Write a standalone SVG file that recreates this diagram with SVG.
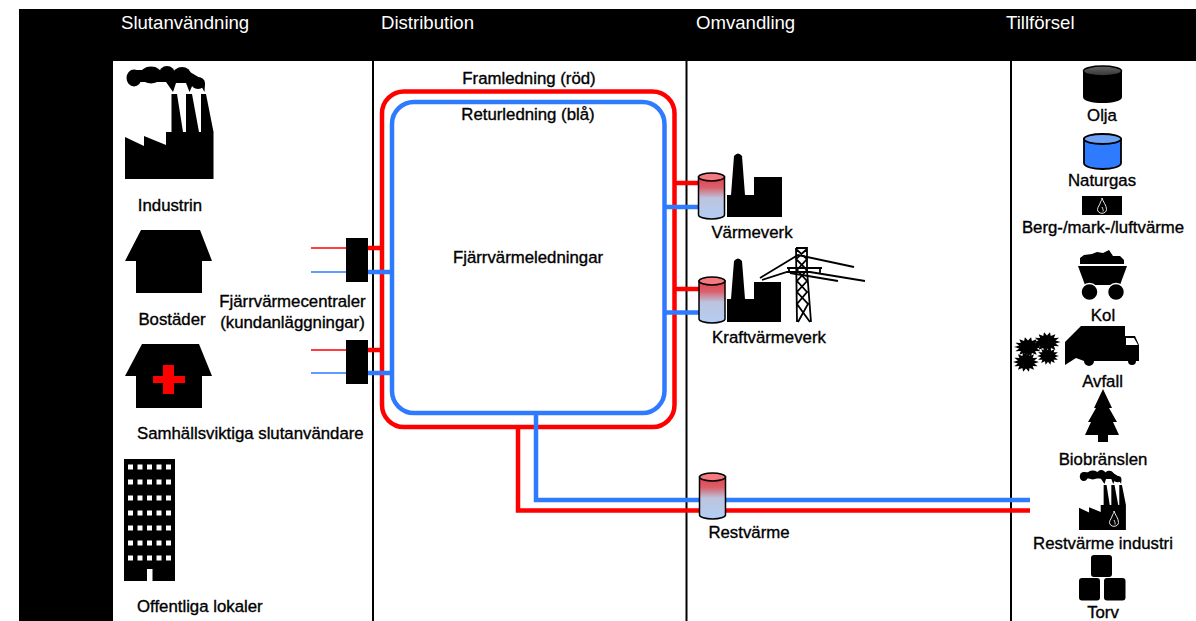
<svg xmlns="http://www.w3.org/2000/svg" width="1196" height="621" viewBox="0 0 1196 621">
<defs>
<linearGradient id="tank" x1="0" y1="0" x2="0" y2="1"><stop offset="0" stop-color="#e8404a"/><stop offset=".25" stop-color="#d9606c"/><stop offset=".5" stop-color="#bcc4de"/><stop offset="1" stop-color="#b4cdf4"/></linearGradient>
<linearGradient id="oil" x1="0" y1="0" x2="0" y2="1"><stop offset="0" stop-color="#666"/><stop offset="1" stop-color="#333"/></linearGradient>
<g id="tankS">
<path d="M0 5V43A13 4 0 0 0 26 43V5Z" fill="url(#tank)" stroke="#000" stroke-width="1.500"/>
<ellipse cx="13" cy="5" rx="13" ry="4" fill="#f47a80" stroke="#000" stroke-width="1.500"/>
</g>
<g id="fact">
<path d="M125 179V137L144 146V136L166 145V132H171.500V94H177L183 132H186V94H192L199 132H201V94H206L213.500 132V179Z"/>
<ellipse cx="134" cy="78" rx="7.500" ry="8.500"/>
<ellipse cx="151" cy="75" rx="11" ry="8.500"/>
<ellipse cx="167" cy="74" rx="8" ry="8"/>
<ellipse cx="182" cy="75" rx="9" ry="8"/>
<ellipse cx="198" cy="83" rx="7" ry="6"/>
<path d="M134 70H170L190 72 200 78 205 84 204.500 92 200 84H193L189.500 92 186 83H176L173 92 166 82H140Z"/>
</g>
<path id="flame" d="M0 0C1 4 4.500 7 4.500 11.500A4.500 3.800 0 0 1 -4.500 11.500C-4.500 9 -2 7 -1.500 4C-1 3 0 2 0 0ZM0 9C.8 11 1.500 12 1 13.500" fill="none" stroke="#fff" stroke-width=".9"/>
<path id="splat" d="M10 0L6.300 1.400 9 4.300 5.100 4.100 6.200 7.800 2.800 5.900 2.200 9.700 0 6.500 -2.200 9.700 -2.800 5.900 -6.200 7.800 -5.100 4.100 -9 4.300 -6.300 1.400 -10 0 -6.300 -1.400 -9 -4.300 -5.100 -4.100 -6.200 -7.800 -2.800 -5.900 -2.200 -9.700 0 -6.500 2.200 -9.700 2.800 -5.900 6.200 -7.800 5.100 -4.100 9 -4.300 6.300 -1.400Z"/>
</defs>
<style>
text{font-family:"Liberation Sans",Arial,sans-serif;font-size:16.800px;fill:#000;stroke:#000;stroke-width:.35px}
.h{font-size:18.600px;fill:#fff;stroke:none}
.m{text-anchor:middle}
.r{fill:none;stroke:#f00;stroke-width:4.500}
.b{fill:none;stroke:#2f7bff;stroke-width:4.500}
.thin{stroke-width:1.500}
.sep{stroke:#000;stroke-width:2;fill:none}
</style>
<rect width="1196" height="621" fill="#fff"/>
<path d="M19 9H1196V61H113V621H19Z" fill="#000"/>
<g id="headers">
<text class="h" x="121" y="29">Slutanvändning</text>
<text class="h" x="381" y="29">Distribution</text>
<text class="h" x="696" y="29">Omvandling</text>
<text class="h" x="1006" y="29">Tillförsel</text>
</g>
<g id="separators">
<path class="sep" d="M373 61V621M686.500 61V621M1011 61V621"/>
</g>
<g id="connectors">
<path class="r" d="M518 427V510.500H1030"/>
<path class="r" d="M404 427H652.500A22 22 0 0 0 674.500 405V113.500A22 22 0 0 0 652.500 91.500H404A22 22 0 0 0 382 113.500V405A22 22 0 0 0 404 427Z"/>
<path class="r" d="M674 183H700M674 289H700M368 248H382M368 350H382"/>
<path class="b" d="M536 413V500H1030"/>
<path class="b" d="M414 413H642.500A22 22 0 0 0 664.500 391V124A22 22 0 0 0 642.500 102H414A22 22 0 0 0 392 124V391A22 22 0 0 0 414 413Z"/>
<path class="b" d="M664 207H700M664 312.500H700M368 272H392M368 373H392"/>
<path class="r thin" d="M311 248H347M311 350H347"/>
<path class="b thin" d="M311 272H347M311 373H347"/>
</g>
<g id="industrin">
<use href="#fact"/>
<text class="m" x="170" y="211">Industrin</text>
</g>
<g id="bostader">
<path d="M141 230H200L212 261H202V293H136V261H125Z" fill="#000"/>
<text class="m" x="172" y="325">Bostäder</text>
</g>
<g id="samhall">
<path d="M142 344H199L212 376H202V408H136V376H125Z" fill="#000"/>
<path d="M163 365H174V376H185V383H174V394H163V383H153V376H163Z" fill="#f00"/>
<text x="137" y="439">Samhällsviktiga slutanvändare</text>
</g>
<g id="offentliga">
<rect x="124" y="459" width="51" height="122" fill="#000"/>
<path fill="none" stroke="#fff" stroke-width="5" stroke-dasharray="5 4.500" d="M128 467H172M128 482H172M128 498H172M128 513H172M128 528H172M128 543H172M128 558H172"/>
<rect x="147" y="569" width="5.500" height="12" fill="#fff"/>
<text x="137" y="612">Offentliga lokaler</text>
</g>
<g id="centraler">
<rect x="346" y="238" width="22" height="44" fill="#000"/>
<rect x="346" y="340" width="22" height="44" fill="#000"/>
<text class="m" x="292.500" y="307">Fjärrvärmecentraler</text>
<text class="m" x="292.500" y="328">(kundanläggningar)</text>
</g>
<g id="labels">
<text class="m" x="529" y="84">Framledning (röd)</text>
<text class="m" x="528" y="120">Returledning (blå)</text>
<text class="m" x="528" y="263">Fjärrvärmeledningar</text>
</g>
<g id="varmeverk">
<use href="#tankS" x="698.500" y="172"/>
<path d="M727 217V195H731L734 156Q738 151 742 156L745 195H754V177H782V217Z" fill="#000"/>
<text class="m" x="752" y="238">Värmeverk</text>
</g>
<g id="kraftvarmeverk">
<use href="#tankS" x="699" y="276"/>
<path d="M727 322V299H731L734 261Q738 256 742 261L745 299H754V282H781V322Z" fill="#000"/>
<path d="M760 278L798 255L854 267M762 280L787 272H810L865 281M790 273L838 281M787 268H822M789 268V273M820 268V274" fill="none" stroke="#000" stroke-width="1.800"/>
<path d="M796 248H807V270L811 322M796 248L797 322M796 249L807 259 797 270 807 281 797 292 808 304 798 322M807 249L796 259 807 270 797 281 807 292 797 304 810 322" fill="none" stroke="#000" stroke-width="1.800"/>
<text class="m" x="769" y="343">Kraftvärmeverk</text>
</g>
<g id="restvarme">
<use href="#tankS" x="699.500" y="472"/>
<text class="m" x="749" y="538">Restvärme</text>
</g>
<g id="olja">
<path d="M1083 71V97C1083 105 1122 105 1122 97V71Z" fill="#000"/>
<ellipse cx="1102.500" cy="71" rx="19" ry="5" fill="url(#oil)" stroke="#000" stroke-width="1.500"/>
<text class="m" x="1102" y="121">Olja</text>
</g>
<g id="naturgas">
<path d="M1084 139V163C1084 171 1121 171 1121 163V139Z" fill="#2f7bff" stroke="#000" stroke-width="1.800"/>
<ellipse cx="1102.500" cy="139" rx="18.500" ry="5" fill="#6ea4f8" stroke="#000" stroke-width="1.800"/>
<text class="m" x="1102" y="186">Naturgas</text>
</g>
<g id="berg">
<rect x="1082" y="196" width="40" height="19" fill="#000"/>
<use href="#flame" x="1102" y="198"/>
<text class="m" x="1103" y="233">Berg-/mark-/luftvärme</text>
</g>
<g id="kol">
<path d="M1080 264V258L1084 255 1092 254 1097 252 1103 253 1109 250 1113 256 1120 256 1124 260V264Z" fill="#000"/>
<path d="M1078 266H1127L1120 285H1085Z" fill="#000"/>
<circle cx="1089.500" cy="292" r="8.500" fill="#000" stroke="#fff" stroke-width="1.500"/>
<circle cx="1116" cy="292" r="8.500" fill="#000" stroke="#fff" stroke-width="1.500"/>
<text class="m" x="1103" y="321">Kol</text>
</g>
<g id="avfall">
<path d="M1081 326H1125V336H1135L1139 345V361H1136A4 4 0 0 1 1128 361H1094A5 5 0 0 1 1084 361 L1076 358 1065 365V342Z" fill="#000"/>
<path d="M1126 338H1134L1138 345H1126Z" fill="#fff"/>
<g fill="#000">
<use href="#splat" transform="translate(1028 347) scale(1.400 1)"/>
<use href="#splat" transform="translate(1047 342) scale(1.350 1)"/>
<use href="#splat" transform="translate(1048 356) scale(1.100 .9)"/>
<use href="#splat" transform="translate(1026 362) scale(1.300 1)"/>
</g>
<text class="m" x="1102.500" y="387">Avfall</text>
</g>
<g id="biobranslen">
<path d="M1103 389L1112 408H1109L1117 422H1113L1119 435H1108V442H1098V435H1085L1091 422H1088L1096 408H1094Z" fill="#000"/>
<text class="m" x="1103" y="465">Biobränslen</text>
</g>
<g id="restindustri">
<use href="#fact" transform="translate(1079 530) scale(.53) translate(-125 -179)"/>
<use href="#flame" x="1114" y="511"/>
<text class="m" x="1103" y="549">Restvärme industri</text>
</g>
<g id="torv">
<rect x="1091" y="555" width="21" height="22" rx="3" fill="#000"/>
<rect x="1079" y="578" width="21" height="22.500" rx="3" fill="#000"/>
<rect x="1104" y="578" width="21.500" height="22.500" rx="3" fill="#000"/>
<text class="m" x="1103" y="618">Torv</text>
</g>
</svg>
